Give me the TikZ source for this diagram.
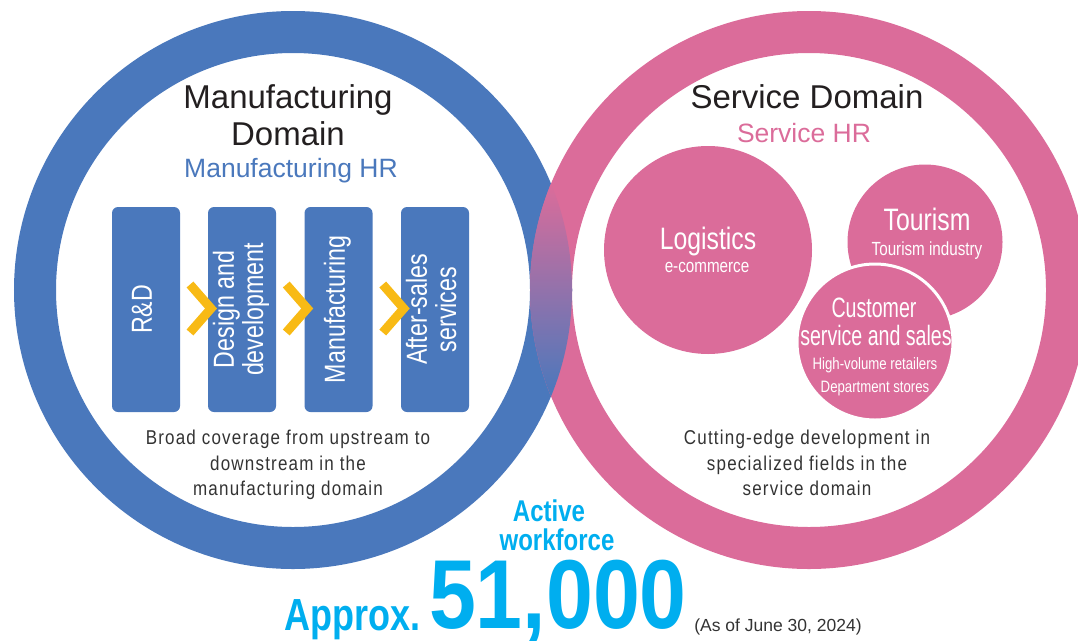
\documentclass[tikz,border=0pt]{standalone}
\usepackage{fontspec}
\usepackage{graphicx}
\usetikzlibrary{calc}

\setmainfont{Liberation Sans}
\newfontfamily\condfont{Liberation Sans}[FakeStretch=0.8]
\newfontfamily\narrowfont{Liberation Sans}[FakeStretch=0.7]
\newfontfamily\notefont{Liberation Sans}[FakeStretch=0.85,LetterSpace=6]
\newfontfamily\countfont{Liberation Sans}[FakeStretch=0.86]

\definecolor{mfgblue}{HTML}{4A78BC}
\definecolor{svcpink}{HTML}{DB6C9A}
\definecolor{arrowgold}{HTML}{F8BA15}
\definecolor{inkgray}{HTML}{231F20}
\definecolor{notegray}{HTML}{333333}
\definecolor{countcyan}{HTML}{00AEEF}

% vertical text for the stage boxes
\newcommand{\vlabel}[1]{\rotatebox{90}{\begin{tabular}{@{}c@{}}#1\end{tabular}}}

\begin{document}
\begin{tikzpicture}[
    x=1pt, y=-1pt,
    ring/.style={
        line width=42pt
    },
    title/.style={
        font=\fontsize{33}{36}\selectfont,
        text=inkgray,
        anchor=base,
        inner sep=0pt
    },
    subtitle/.style={
        font=\fontsize{26.5}{30}\selectfont,
        anchor=base,
        inner sep=0pt
    },
    stage/.style={
        fill=mfgblue,
        rounded corners=6pt,
        minimum width=68pt,
        minimum height=205pt,
        inner sep=0pt,
        text=white,
        font=\condfont\fontsize{29}{27}\selectfont
    },
    chevron/.style={
        draw=arrowgold,
        line width=9pt,
        line join=miter
    },
    note/.style={
        font=\notefont\fontsize{20}{24}\selectfont,
        text=notegray,
        anchor=base,
        inner sep=0pt
    },
    bubble/.style={
        circle,
        fill=svcpink,
        inner sep=0pt
    },
    bubblehead/.style={
        font=\condfont\fontsize{31}{34}\selectfont,
        text=white,
        anchor=base,
        inner sep=0pt
    },
    bubblenote/.style={
        font=\condfont\fontsize{19}{22}\selectfont,
        text=white,
        anchor=base,
        inner sep=0pt
    },
    count/.style={
        text=countcyan,
        anchor=base,
        inner sep=0pt
    }
]

\useasboundingbox (0,0) rectangle (1078,640);

% Centres of the two domain rings and of their texts
\coordinate (mfgc) at (293,290);
\coordinate (svcc) at (809,290);
\def\MfgX{288}
\def\SvcX{807}

% ==================================================
% Rings
% ==================================================

\draw[ring, mfgblue] (mfgc) circle (258pt);
\draw[ring, svcpink] (svcc) circle (258pt);

% blend where the rings cross
\begin{scope}
    \clip (mfgc) circle (279pt);
    \clip (svcc) circle (279pt);
    \shade[top color=svcpink, bottom color=mfgblue]
        (520,184) rectangle (585,396);
\end{scope}
\begin{scope}
    \clip (mfgc) circle (237pt);
    \draw[ring, svcpink] (svcc) circle (258pt);
\end{scope}
\begin{scope}
    \clip (svcc) circle (237pt);
    \draw[ring, mfgblue] (mfgc) circle (258pt);
\end{scope}

% ==================================================
% Manufacturing domain
% ==================================================

\node[title] (mfgtitle) at (\MfgX,108) {Manufacturing};
\node[title] (mfgtitleb) at (\MfgX,145) {Domain};
\node[subtitle, text=mfgblue] (mfghr) at (291,177) {Manufacturing HR};

\node[stage] (rd) at (146,309.5) {\vlabel{R\&D}};
\node[stage] (design) at (242,309.5) {\vlabel{Design and\\development}};
\node[stage] (making) at (338.5,309.5) {\vlabel{Manufacturing}};
\node[stage] (aftersales) at (435,309.5) {\vlabel{After-sales\\services}};

\draw[chevron] ($(rd.east)!0.5!(design.west)$)
    ++(-4,-25) -- ++(21,24) -- ++(-21,24);
\draw[chevron] ($(design.east)!0.5!(making.west)$)
    ++(-4,-25) -- ++(21,24) -- ++(-21,24);
\draw[chevron] ($(making.east)!0.5!(aftersales.west)$)
    ++(-4,-25) -- ++(21,24) -- ++(-21,24);

\node[note] (mfgnote) at (\MfgX,444) {Broad coverage from upstream to};
\node[note] (mfgnoteb) at (\MfgX,470) {downstream in the};
\node[note] (mfgnotec) at (\MfgX,495) {manufacturing domain};

% ==================================================
% Service domain
% ==================================================

\node[title] (svctitle) at (\SvcX,108) {Service Domain};
\node[subtitle, text=svcpink] (svchr) at (804,142) {Service HR};

% Logistics
\node[bubble, minimum size=208pt] (logistics) at (708,250) {};
\node[bubblehead] (logihead) at (708,249) {Logistics};
\node[bubblenote] (logisub) at (707,272) {e-commerce};

% Tourism
\node[bubble, minimum size=155pt] (tourism) at (925,242) {};
\node[bubblehead] (tourhead) at (927,230) {Tourism};
\node[bubblenote] (toursub) at (927,255) {Tourism industry};

% Customer service, laid over the tourism bubble
\node[bubble, draw=white, line width=3pt, minimum size=156pt] (customer) at (875,342) {};
\node[bubblehead, font=\narrowfont\fontsize{28}{30}\selectfont] (custhead) at (874,317) {Customer};
\node[bubblehead, font=\narrowfont\fontsize{28}{30}\selectfont] (custheadb) at (876,345) {service and sales};
\node[bubblenote, font=\condfont\fontsize{16.5}{20}\selectfont] (custsub) at (875,369) {High-volume retailers};
\node[bubblenote, font=\condfont\fontsize{16.5}{20}\selectfont] (custsubb) at (875,392) {Department stores};

\node[note] (svcnote) at (\SvcX,444) {Cutting-edge development in};
\node[note] (svcnoteb) at (\SvcX,470) {specialized fields in the};
\node[note] (svcnotec) at (\SvcX,495) {service domain};

% ==================================================
% Workforce
% ==================================================

\node[count, font=\condfont\bfseries\fontsize{30}{32}\selectfont] (active) at (549,521) {Active};
\node[count, font=\condfont\bfseries\fontsize{30}{32}\selectfont] (workforce) at (557,550) {workforce};

\node[count, font=\countfont\bfseries\fontsize{98}{104}\selectfont] (headcount) at (558,628) {51,000};
\node[count, anchor=base east, font=\condfont\bfseries\fontsize{45}{48}\selectfont]
    (approx) at ([xshift=-8pt,yshift=-2pt]headcount.base west) {Approx.};
\node[anchor=base west, inner sep=0pt, text=notegray, font=\fontsize{17.5}{20}\selectfont]
    (asof) at ([xshift=7pt,yshift=-3pt]headcount.base east) {(As of June 30, 2024)};

\end{tikzpicture}
\end{document}
